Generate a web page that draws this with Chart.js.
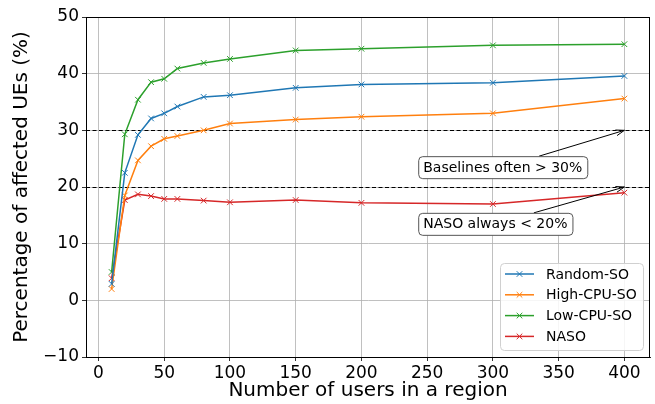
<!DOCTYPE html>
<html><head><meta charset="utf-8">
<script src="https://cdn.jsdelivr.net/npm/chart.js@4"></script>
<style>html,body{margin:0;padding:0;background:#fff}</style>
</head><body>
<canvas id="c" width="655" height="404" style="width:655px;height:404px;display:block"></canvas>
<script>
const users = [10, 20, 30, 40, 50, 60, 80, 100, 150, 200, 300, 400];
const randomSO = [2.9, 22.5, 29.2, 32.1, 33.0, 34.2, 35.9, 36.2, 37.5, 38.1, 38.4, 39.6];
const highCpuSO = [2.0, 18.5, 24.7, 27.2, 28.5, 29.0, 30.0, 31.2, 31.9, 32.4, 33.0, 35.6];
const lowCpuSO = [5.0, 29.3, 35.4, 38.5, 39.1, 40.9, 41.9, 42.6, 44.1, 44.4, 45.0, 45.2];
const naso = [3.9, 17.7, 18.7, 18.4, 17.9, 17.9, 17.6, 17.3, 17.7, 17.2, 17.0, 19.0];
const seriesNames = ['Random-SO', 'High-CPU-SO', 'Low-CPU-SO', 'NASO'];
const seriesColors = ['#1f77b4', '#ff7f0e', '#2ca02c', '#d62728'];
const xTicks = [0, 50, 100, 150, 200, 250, 300, 350, 400];
const yTicks = [-10, 0, 10, 20, 30, 40, 50];
const thresholds = [30, 20];
const notes = [
  {text: 'Baselines often > 30%', x: 247, y: 23.5, tx: 400, ty: 30},
  {text: 'NASO always < 20%', x: 247, y: 13.5, tx: 400, ty: 20}
];

const FONT = "'DejaVu Sans', sans-serif";
const allSeries = [randomSO, highCpuSO, lowCpuSO, naso];

const datasets = allSeries.map((vals, i) => ({
  label: seriesNames[i],
  data: users.map((u, k) => ({x: u, y: vals[k]})),
  borderColor: seriesColors[i],
  backgroundColor: seriesColors[i],
  borderWidth: 1.5,
  pointStyle: 'crossRot',
  pointRadius: 4,
  pointBorderWidth: 1,
  pointHoverRadius: 4,
  tension: 0,
  fill: false
}));

const extras = {
  id: 'extras',
  beforeDatasetsDraw(chart) {
    const {ctx, chartArea: a, scales: {x, y}} = chart;
    ctx.save();
    ctx.strokeStyle = '#000';
    ctx.lineWidth = 1;
    ctx.setLineDash([4, 2.5]);
    thresholds.forEach(t => {
      const py = Math.round(y.getPixelForValue(t)) + 0.5;
      ctx.beginPath(); ctx.moveTo(a.left, py); ctx.lineTo(a.right, py); ctx.stroke();
    });
    ctx.restore();
  },
  afterDatasetsDraw(chart) {
    const {ctx, chartArea: a, scales: {x, y}} = chart;
    ctx.save();
    ctx.strokeStyle = '#000';
    ctx.lineWidth = 1;
    ctx.strokeRect(a.left + 0.5, a.top + 0.5, a.right - a.left - 1, a.bottom - a.top);

    ctx.font = '14px ' + FONT;
    notes.forEach(n => {
      const tx = x.getPixelForValue(n.x), ty = y.getPixelForValue(n.y);
      const w = ctx.measureText(n.text).width;
      const bx = tx - 5, by = ty - 11, bw = w + 10, bh = 22;
      const cx = bx + bw / 2, cy = by + bh / 2;
      const px = x.getPixelForValue(n.tx), py = y.getPixelForValue(n.ty);
      const dx = px - cx, dy = py - cy;
      let t = 1;
      if (dx !== 0) t = Math.min(t, Math.abs((bw / 2) / dx));
      if (dy !== 0) t = Math.min(t, Math.abs((bh / 2) / dy));
      const sx = cx + dx * t, sy = cy + dy * t;
      ctx.strokeStyle = '#000';
      ctx.lineWidth = 1;
      ctx.beginPath(); ctx.moveTo(sx, sy); ctx.lineTo(px, py); ctx.stroke();
      const ang = Math.atan2(py - sy, px - sx);
      const hl = 9, hw = 0.33;
      ctx.beginPath();
      ctx.moveTo(px - hl * Math.cos(ang - hw), py - hl * Math.sin(ang - hw));
      ctx.lineTo(px, py);
      ctx.lineTo(px - hl * Math.cos(ang + hw), py - hl * Math.sin(ang + hw));
      ctx.stroke();
      ctx.fillStyle = '#fff';
      ctx.strokeStyle = '#555';
      ctx.beginPath();
      ctx.roundRect(bx + 0.5, by + 0.5, bw, bh, 4);
      ctx.fill(); ctx.stroke();
      ctx.fillStyle = '#000';
      ctx.textBaseline = 'middle';
      ctx.textAlign = 'left';
      ctx.fillText(n.text, tx, ty + 1);
    });

    const lw = 143, lh = 87;
    const lx = a.right - 7 - lw, ly = a.bottom - 7 - lh;
    ctx.globalAlpha = 0.85;
    ctx.fillStyle = '#fff';
    ctx.beginPath(); ctx.roundRect(lx + 0.5, ly + 0.5, lw, lh, 4); ctx.fill();
    ctx.globalAlpha = 1;
    ctx.strokeStyle = '#d0d0d0';
    ctx.lineWidth = 1;
    ctx.stroke();
    chart.data.datasets.forEach((ds, i) => {
      const yy = ly + 11 + i * 20.8;
      ctx.strokeStyle = ds.borderColor;
      ctx.lineWidth = 1.5;
      ctx.beginPath(); ctx.moveTo(lx + 5, yy); ctx.lineTo(lx + 34, yy); ctx.stroke();
      ctx.lineWidth = 1;
      const mx = lx + 19.5, r = 2.8;
      ctx.beginPath();
      ctx.moveTo(mx - r, yy - r); ctx.lineTo(mx + r, yy + r);
      ctx.moveTo(mx - r, yy + r); ctx.lineTo(mx + r, yy - r);
      ctx.stroke();
      ctx.fillStyle = '#000';
      ctx.font = '14px ' + FONT;
      ctx.textBaseline = 'middle';
      ctx.textAlign = 'left';
      ctx.fillText(ds.label, lx + 46, yy + 1);
    });
    ctx.restore();
  }
};

new Chart(document.getElementById('c'), {
  type: 'line',
  data: {datasets},
  options: {
    responsive: false,
    animation: false,
    events: [],
    layout: {padding: {top: 17, right: 3, left: 0, bottom: 0}},
    plugins: {legend: {display: false}, tooltip: {enabled: false}},
    scales: {
      x: {
        type: 'linear',
        min: -9.5, max: 419.5,
        afterBuildTicks: s => { s.ticks = xTicks.map(v => ({value: v})); },
        afterFit: s => { s.height = 47; },
        grid: {color: '#b0b0b0', lineWidth: 0.8, tickColor: '#000', tickLength: 4, drawOnChartArea: true},
        border: {display: true, color: '#000', width: 1},
        ticks: {color: '#000', font: {family: FONT, size: 17}, padding: 2, maxRotation: 0, autoSkip: false},
        title: {display: true, text: 'Number of users in a region', color: '#000', font: {family: FONT, size: 20}, padding: {top: 0, bottom: 1}}
      },
      y: {
        type: 'linear',
        min: -10, max: 50,
        afterBuildTicks: s => { s.ticks = yTicks.map(v => ({value: v})); },
        afterFit: s => { s.width = 86; },
        grid: {color: '#b0b0b0', lineWidth: 0.8, tickColor: '#000', tickLength: 4, drawOnChartArea: true},
        border: {display: true, color: '#000', width: 1},
        ticks: {color: '#000', font: {family: FONT, size: 17}, padding: 3, autoSkip: false,
          callback: v => String(v).replace('-', '\u2212')},
        title: {display: true, text: 'Percentage of affected UEs (%)', color: '#000', font: {family: FONT, size: 20}, padding: {top: 10, bottom: 0}}
      }
    }
  },
  plugins: [extras]
});
</script>
</body></html>
